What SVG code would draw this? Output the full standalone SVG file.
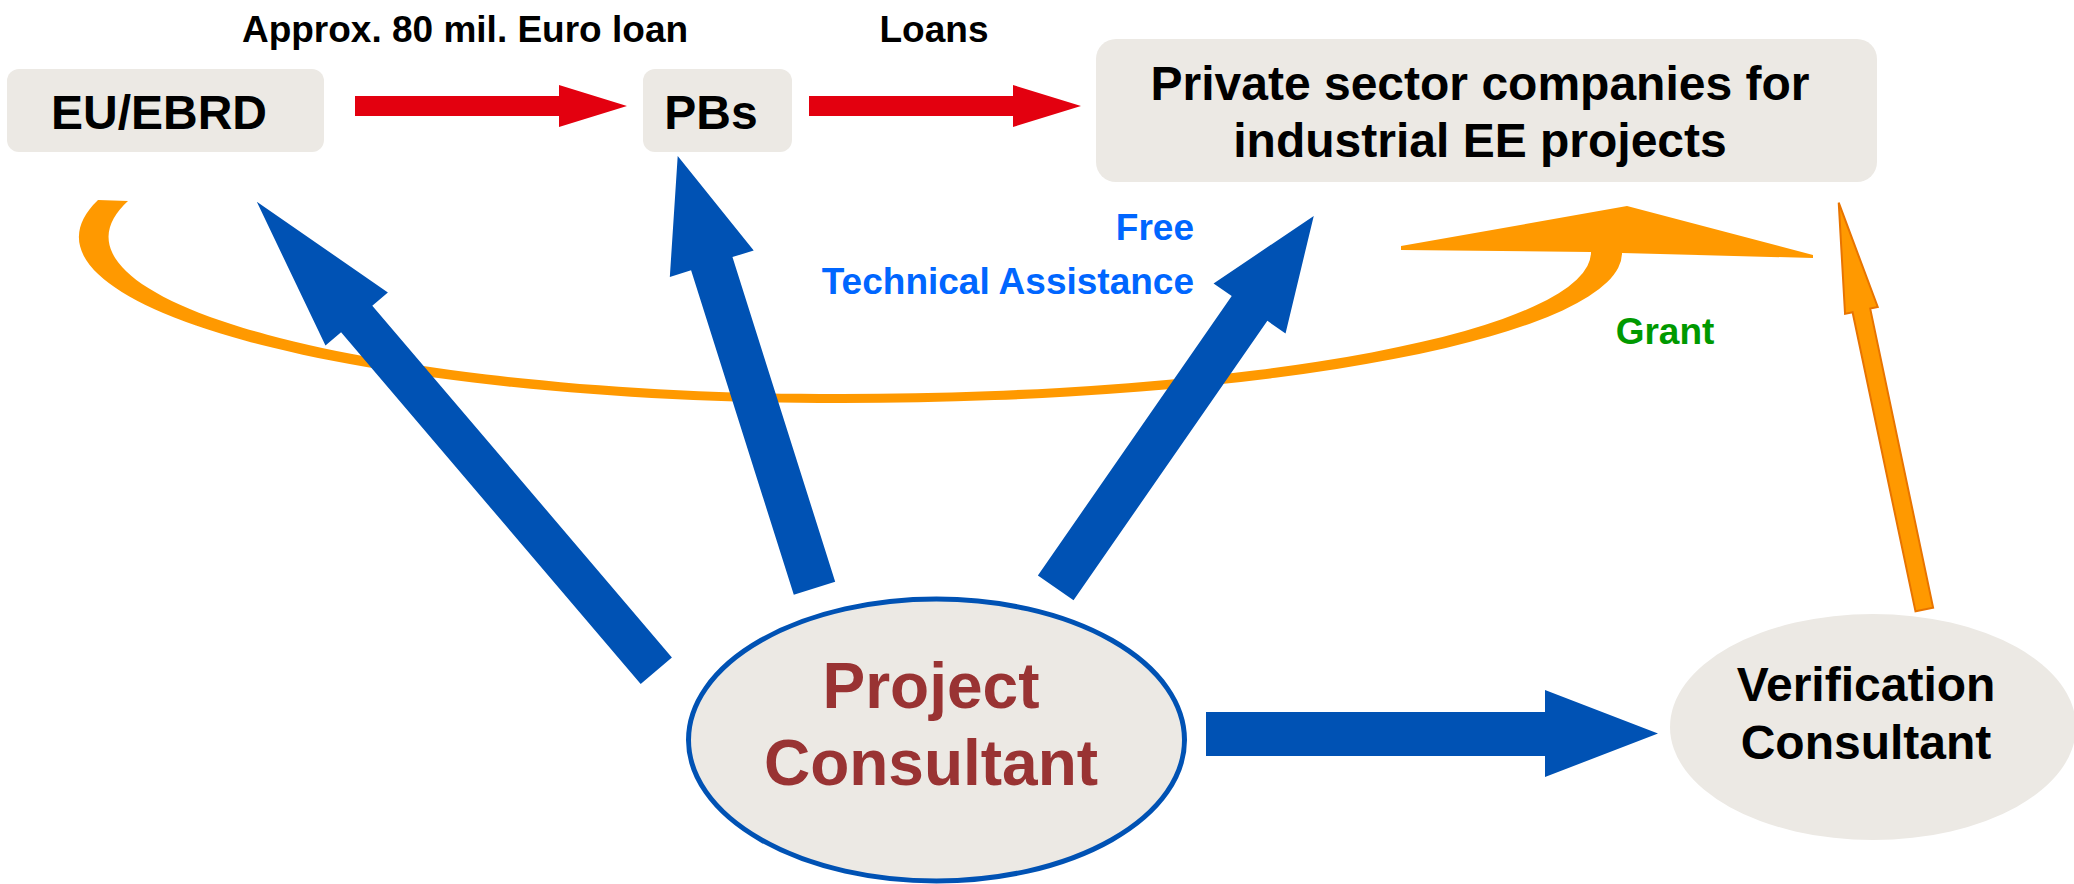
<svg xmlns="http://www.w3.org/2000/svg" width="2074" height="884" viewBox="0 0 2074 884">
<style>
.box{fill:#ece9e4}
.t{font-family:"Liberation Sans",Arial,sans-serif;font-weight:bold}
.big{font-size:48px;fill:#000}
.lbl{font-size:37px}
.red{fill:#e3000f}
.blue{fill:#0052b4}
.org{fill:#ff9900}
</style>
<rect width="2074" height="884" fill="#fff"/>
<g id="connectors">
  <path id="grant-curve" class="org" d="M98,200 A760,166 0 0 0 842,403 A780,150 0 0 0 1622,253 L1813,258 L1813,255 L1627,206 L1401,246 L1401,250 L1591,252 A749,142 0 0 1 842,394 A730,157 0 0 1 128,201 Z"/>
  <polygon id="arrow-eu-pb" class="red" points="355,96 559,96 559,85 627,106 559,127 559,116 355,116"/>
  <polygon id="arrow-pb-ps" class="red" points="809,96 1013,96 1013,85 1081,106 1013,127 1013,116 809,116"/>
  <polygon id="arrow-pc-eu" class="blue" transform="translate(656.3,670.7) rotate(-130.43)" points="0,-20.5 462,-20.5 462,-41 616,0 462,41 462,20.5 0,20.5"/>
  <polygon id="arrow-pc-pb" class="blue" transform="translate(814.5,588.3) rotate(-107.56)" points="0,-21.7 340.5,-21.7 340.5,-44 453.4,0 340.5,44 340.5,21.7 0,21.7"/>
  <polygon id="arrow-pc-ps" class="blue" transform="translate(1055.7,587.8) rotate(-55.24)" points="0,-21.7 340,-21.7 340,-43.8 452.6,0 340,43.8 340,21.7 0,21.7"/>
  <polygon id="arrow-pc-vc" class="blue" points="1206,712 1545,712 1545,690 1658,733.5 1545,777 1545,756 1206,756"/>
  <polygon id="arrow-vc-ps" class="org" stroke="#e87400" stroke-width="2" transform="translate(1924.3,609.5) rotate(-101.88)" points="0,-9 305.6,-9 305.6,-16.7 415.7,0 305.6,16.7 305.6,9 0,9"/>
  <text class="t lbl" x="465" y="42" text-anchor="middle" fill="#000">Approx. 80 mil. Euro loan</text>
  <text class="t lbl" x="934" y="42" text-anchor="middle" fill="#000">Loans</text>
  <text class="t lbl" x="1194" y="240" text-anchor="end" fill="#0066ff">Free</text>
  <text class="t lbl" x="1194" y="294" text-anchor="end" fill="#0066ff">Technical Assistance</text>
  <text class="t lbl" x="1665" y="344" text-anchor="middle" fill="#009900">Grant</text>
</g>
<g id="eu-ebrd">
  <rect class="box" x="7" y="69" width="317" height="83" rx="12"/>
  <text class="t big" x="159" y="129" text-anchor="middle">EU/EBRD</text>
</g>
<g id="pbs">
  <rect class="box" x="643" y="69" width="149" height="83" rx="12"/>
  <text class="t big" x="711" y="129" text-anchor="middle">PBs</text>
</g>
<g id="private-sector">
  <rect class="box" x="1096" y="39" width="781" height="143" rx="20"/>
  <text class="t big" x="1480" y="100" text-anchor="middle">Private sector companies for</text>
  <text class="t big" x="1480" y="157" text-anchor="middle">industrial EE projects</text>
</g>
<g id="project-consultant">
  <ellipse class="box" cx="936.5" cy="740" rx="248" ry="141" stroke="#0052b4" stroke-width="5"/>
  <text class="t" font-size="64" fill="#993333" x="931" y="708" text-anchor="middle">Project</text>
  <text class="t" font-size="64" fill="#993333" x="931" y="785" text-anchor="middle">Consultant</text>
</g>
<g id="verification-consultant">
  <ellipse class="box" cx="1873" cy="727" rx="203" ry="113"/>
  <text class="t big" x="1866" y="701" text-anchor="middle">Verification</text>
  <text class="t big" x="1866" y="759" text-anchor="middle">Consultant</text>
</g>
</svg>
